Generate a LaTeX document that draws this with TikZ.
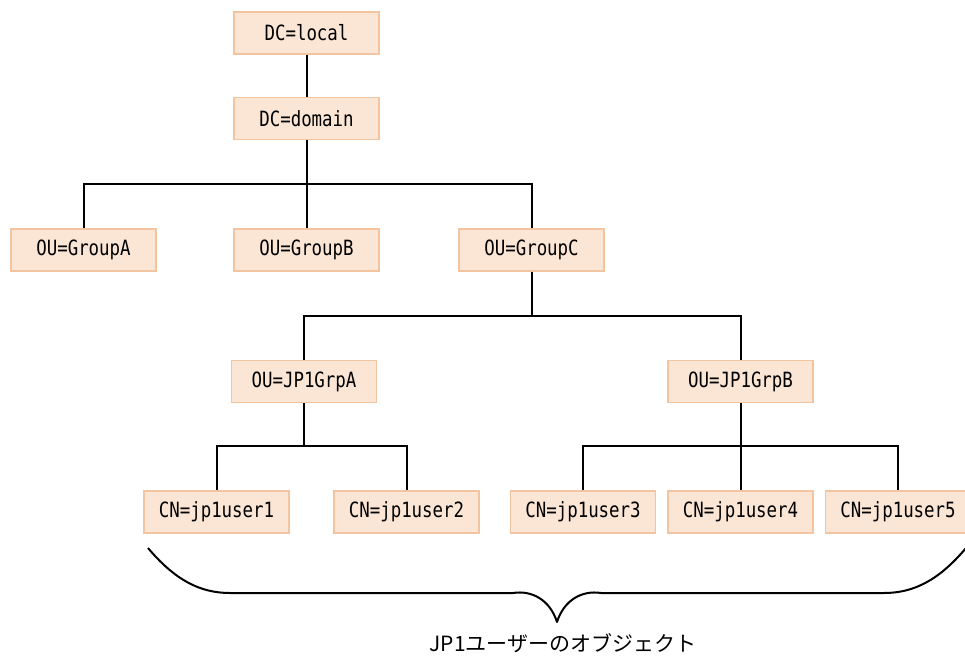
\documentclass[tikz,border=0pt]{standalone}
\usepackage{fontspec}
\newfontfamily\boxfont[FakeStretch=0.83]{DejaVu Sans Mono}
\newfontfamily\jpfont{Noto Sans CJK JP}
\definecolor{boxfill}{HTML}{FBE6D5}
\definecolor{boxline}{HTML}{F2C4A0}
\tikzset{
  entry/.style={draw=boxline, fill=boxfill, line width=1.6pt, minimum width=145pt, minimum height=42pt, inner sep=0pt, font=\boxfont\fontsize{21pt}{21pt}\selectfont},
  link/.style={draw=black, line width=2pt},
  bracelabel/.style={font=\jpfont\fontsize{21pt}{21pt}\selectfont, inner sep=0pt}
}
\begin{document}
\begin{tikzpicture}[x=1pt,y=-1pt]
\clip (0,0) rectangle (965,655);
\useasboundingbox (0,0) rectangle (965,655);
\node[entry] (local) at (306.5,33) {DC=local};
\node[entry] (domain) at (306.5,118.5) {DC=domain};
\node[entry] (ga) at (83.5,250) {OU=GroupA};
\node[entry] (gb) at (306.5,250) {OU=GroupB};
\node[entry] (gc) at (531.5,250) {OU=GroupC};
\node[entry] (ja) at (304,381.5) {OU=JP1GrpA};
\node[entry] (jb) at (740.5,381.5) {OU=JP1GrpB};
\node[entry] (u1) at (216.5,512) {CN=jp1user1};
\node[entry] (u2) at (406.5,512) {CN=jp1user2};
\node[entry] (u3) at (583,512) {CN=jp1user3};
\node[entry] (u4) at (740.5,512) {CN=jp1user4};
\node[entry] (u5) at (898,512) {CN=jp1user5};
% connectors
\draw[link] (local.south) -- (domain.north);
\draw[link] (domain.south) -- (gb.north);
\draw[link] (ga.north) |- (gc.north |- 0,184) -- (gc.north);
\draw[link] (gc.south) -- (gc.south |- 0,316);
\draw[link] (ja.north) |- (jb.north |- 0,316) -- (jb.north);
\draw[link] (ja.south) -- (ja.south |- 0,446);
\draw[link] (u1.north) |- (u2.north |- 0,446) -- (u2.north);
\draw[link] (jb.south) -- (u4.north);
\draw[link] (u3.north) |- (u5.north |- 0,446) -- (u5.north);
% brace
\coordinate (bl) at (148,548);
\coordinate (tip) at (557,622);
\coordinate (br) at (966,548);
\draw[line width=2pt, line join=round]
  (bl) .. controls (175,580) and (200,593) .. (230,593) -- (513,593)
  .. controls (532,590) and (550,600) .. (tip)
  .. controls (564,600) and (582,590) .. (601,593) -- (884,593)
  .. controls (914,593) and (939,580) .. (br);
\node[bracelabel] (lbl) at (563,643) {JP1ユーザーのオブジェクト};
\end{tikzpicture}
\end{document}
